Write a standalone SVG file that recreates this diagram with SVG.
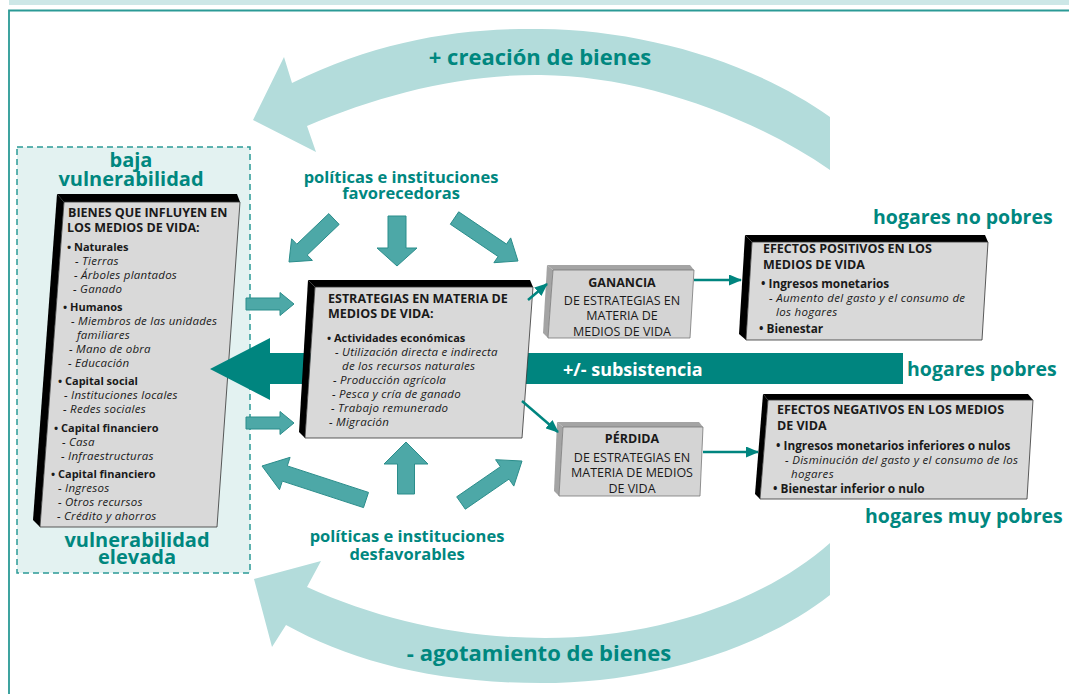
<svg xmlns="http://www.w3.org/2000/svg" width="1069" height="694" viewBox="0 0 1069 694">
<defs>
<style>
.t{font-family:"Open Sans","Liberation Sans",sans-serif;fill:#1a1a1a}
.hdr{font-size:12.5px;font-weight:bold}
.bul{font-size:11px;font-weight:bold}
.it{font-size:11.5px;font-style:italic;letter-spacing:0.25px}
.bul2{font-size:11.8px;font-weight:bold}
.it2{font-size:11.5px;font-style:italic;letter-spacing:0.3px}
.reg{font-size:12.5px}
.g{font-family:"Open Sans","Liberation Sans",sans-serif;font-weight:bold;fill:#00877f}
.face{fill:#d9d9d9;stroke:#333;stroke-width:0.8}
.blk{fill:#000}
.gface{fill:#d4d4d4;stroke:#777;stroke-width:0.8}
.gside{fill:#a4a4a4}
.blockarrow{fill:#4da8a7;stroke:#2b8d8b;stroke-width:1}
.thin{stroke:#00857f;stroke-width:2.5;fill:none}
.arc{fill:#b3dcdb}
</style>
<marker id="ah" markerUnits="userSpaceOnUse" markerWidth="13" markerHeight="11" refX="12" refY="5.5" orient="auto"><path d="M0,0 L13,5.5 L0,11 Z" fill="#00857f"/></marker>
</defs>
<rect width="1069" height="694" fill="#fff"/>
<rect x="9" y="0" width="1060" height="5" fill="#cde7e7"/>
<path d="M9,694 V10.5 H1069" fill="none" stroke="#2b9a96" stroke-width="1.8"/>

<g id="arc-top">
<path class="arc" d="M292,83 C380,40 460,28 541,29 C640,30 750,60 830,117 L830,170 C750,115 640,76 541,75 C460,74 380,95 307,126 L316,152 L253,120 L284,57 Z"/>
<text class="g" x="540" y="65" font-size="22" text-anchor="middle">+ creación de bienes</text>
</g>
<g id="arc-bottom">
<path class="arc" d="M307,587 C380,620 460,638 545,638 C650,638 760,605 830,543 L830,595 C760,650 650,683 541,683 C430,683 350,660 286,625 L272,647 L254,579 L321,561 Z"/>
<text class="g" x="539" y="661" font-size="22" text-anchor="middle">- agotamiento de bienes</text>
</g>

<g id="vulnerability-zone">
<rect x="17" y="147" width="233" height="426" fill="#e3f2f1" stroke="#2b9a96" stroke-width="1.5" stroke-dasharray="6,4"/>
<text class="g" font-size="20" text-anchor="middle"><tspan x="131" y="167">baja</tspan><tspan x="131" y="186">vulnerabilidad</tspan></text>
<text class="g" font-size="20" text-anchor="middle"><tspan x="137" y="547">vulnerabilidad</tspan><tspan x="137" y="564">elevada</tspan></text>
</g>

<g id="bienes">
<polygon class="blk" points="57,194 237,194 240,202 64,202"/>
<polygon class="blk" points="57,194 64,202 40,527 33,520"/>
<polygon class="face" points="64,202 240,202 217,527 40,527"/>
<text class="t hdr" x="68" y="217">BIENES QUE INFLUYEN EN</text>
<text class="t hdr" x="67" y="232">LOS MEDIOS DE VIDA:</text>
<text class="t bul" x="67" y="251">• Naturales</text>
<text class="t it" x="75" y="265">- Tierras</text>
<text class="t it" x="74" y="279">- Árboles plantados</text>
<text class="t it" x="73" y="293">- Ganado</text>
<text class="t bul" x="63" y="311">• Humanos</text>
<text class="t it" x="71" y="325">- Miembros de las unidades</text>
<text class="t it" x="77" y="339">familiares</text>
<text class="t it" x="69" y="353">- Mano de obra</text>
<text class="t it" x="68" y="367">- Educación</text>
<text class="t bul" x="58" y="385">• Capital social</text>
<text class="t it" x="64" y="399">- Instituciones locales</text>
<text class="t it" x="63" y="413">- Redes sociales</text>
<text class="t bul" x="54" y="432">• Capital financiero</text>
<text class="t it" x="62" y="446">- Casa</text>
<text class="t it" x="61" y="460">- Infraestructuras</text>
<text class="t bul" x="51" y="478">• Capital financiero</text>
<text class="t it" x="58" y="492">- Ingresos</text>
<text class="t it" x="58" y="506">- Otros recursos</text>
<text class="t it" x="57" y="520">- Crédito y ahorros</text>
</g>

<g id="subsistencia">
<polygon fill="#00857f" points="210,369 270,338 270,353 903,353 903,384 270,384 270,400"/>
<text x="563" y="376" font-family="Open Sans, Liberation Sans, sans-serif" font-weight="bold" font-size="18" fill="#fff">+/- subsistencia</text>
</g>

<g id="estrategias">
<polygon class="blk" points="308,280 530,280 533,287 315,287"/>
<polygon class="blk" points="308,280 315,287 305,438 299,432"/>
<polygon class="face" points="315,287 533,287 522,438 305,438"/>
<text class="t hdr" x="328" y="303">ESTRATEGIAS EN MATERIA DE</text>
<text class="t hdr" x="328" y="318">MEDIOS DE VIDA:</text>
<text class="t bul" x="327" y="342">• Actividades económicas</text>
<text class="t it" x="335" y="356">- Utilización directa e indirecta</text>
<text class="t it" x="342" y="370">de los recursos naturales</text>
<text class="t it" x="333" y="384">- Producción agrícola</text>
<text class="t it" x="332" y="398">- Pesca y cría de ganado</text>
<text class="t it" x="331" y="412">- Trabajo remunerado</text>
<text class="t it" x="329" y="426">- Migración</text>
</g>

<g id="ganancia">
<polygon class="gside" points="547,265 690,265 694,270 553,270"/>
<polygon class="gside" points="547,265 553,270 548,338 543,333"/>
<polygon class="gface" points="553,270 694,270 690,338 548,338"/>
<text class="t hdr" x="622" y="287" text-anchor="middle">GANANCIA</text>
<text class="t reg" x="622" y="305" text-anchor="middle">DE ESTRATEGIAS EN</text>
<text class="t reg" x="622" y="320" text-anchor="middle">MATERIA DE</text>
<text class="t reg" x="622" y="336" text-anchor="middle">MEDIOS DE VIDA</text>
</g>

<g id="perdida">
<polygon class="gside" points="557,422 699,422 703,427 563,427"/>
<polygon class="gside" points="557,422 563,427 559,496 554,491"/>
<polygon class="gface" points="563,427 703,427 700,496 559,496"/>
<text class="t hdr" x="632" y="443" text-anchor="middle">PÉRDIDA</text>
<text class="t reg" x="632" y="462" text-anchor="middle">DE ESTRATEGIAS EN</text>
<text class="t reg" x="632" y="477" text-anchor="middle">MATERIA DE MEDIOS</text>
<text class="t reg" x="632" y="493" text-anchor="middle">DE VIDA</text>
</g>

<g id="efectos-positivos">
<polygon class="blk" points="745,235 985,235 988,242 752,242"/>
<polygon class="blk" points="745,235 752,242 746,340 739,334"/>
<polygon class="face" points="752,242 988,242 982,340 746,340"/>
<text class="t hdr" x="763" y="253">EFECTOS POSITIVOS EN LOS</text>
<text class="t hdr" x="763" y="269">MEDIOS DE VIDA</text>
<text class="t bul2" x="761" y="288">• Ingresos monetarios</text>
<text class="t it2" x="769" y="302">- Aumento del gasto y el consumo de</text>
<text class="t it2" x="776" y="316">los hogares</text>
<text class="t bul2" x="759" y="333">• Bienestar</text>
</g>

<g id="efectos-negativos">
<polygon class="blk" points="763,394 1028,394 1033,400 768,400"/>
<polygon class="blk" points="763,394 768,400 760,499 755,494"/>
<polygon class="face" points="768,400 1033,400 1027,499 760,499"/>
<text class="t hdr" x="777" y="414">EFECTOS NEGATIVOS EN LOS MEDIOS</text>
<text class="t hdr" x="777" y="430">DE VIDA</text>
<text class="t bul2" x="776" y="450">• Ingresos monetarios inferiores o nulos</text>
<text class="t it2" x="785" y="464">- Disminución del gasto y el consumo de los</text>
<text class="t it2" x="791" y="478">hogares</text>
<text class="t bul2" x="773" y="493">• Bienestar inferior o nulo</text>
</g>

<g id="politicas-favorecedoras">
<text class="g" font-size="16.5" text-anchor="middle"><tspan x="401" y="183">políticas e instituciones</tspan><tspan x="401" y="199">favorecedoras</tspan></text>
</g>
<g id="politicas-desfavorables">
<text class="g" font-size="16.5" text-anchor="middle"><tspan x="407" y="542">políticas e instituciones</tspan><tspan x="407" y="560">desfavorables</tspan></text>
</g>

<g id="labels-hogares">
<text class="g" x="873" y="224" font-size="19.5">hogares no pobres</text>
<text class="g" x="907" y="376" font-size="19.5">hogares pobres</text>
<text class="g" x="865" y="523" font-size="19.5">hogares muy pobres</text>
</g>

<g id="connectors">
<polygon class="blockarrow" points="328.8,213.6 296.8,244.2 291.6,238.8 289,262 312.4,260.4 307.2,255 339.2,224.4"/>
<polygon class="blockarrow" points="388,216 388,248 377,248 397,266 417,248 406,248 406,216"/>
<polygon class="blockarrow" points="450.3,224.2 498.1,256.5 493.9,262.7 518,261 510.7,237.9 506.5,244.1 458.7,211.8"/>
<polygon class="blockarrow" points="368.5,492.4 287.3,465.9 290.1,457.3 262,466 279.5,489.7 282.3,481.1 363.5,507.6"/>
<polygon class="blockarrow" points="414.5,494 414.5,464 428,464 406,442 384,464 397.5,464 397.5,494"/>
<polygon class="blockarrow" points="465.3,509.2 509,479.1 513.8,486.1 522,461 495.6,459.7 500.4,466.7 456.7,496.8"/>
<polygon class="blockarrow" points="246,298 280,298 280,292.5 294,304 280,315.5 280,310 246,310"/>
<polygon class="blockarrow" points="246,417 280,417 280,411.5 294,423 280,434.5 280,429 246,429"/>
<path class="thin" d="M528,300 L547,284" marker-end="url(#ah)"/>
<path class="thin" d="M522,401 L558,432" marker-end="url(#ah)"/>
<path class="thin" d="M694,280 L741,280" marker-end="url(#ah)"/>
<path class="thin" d="M703,452 L758,452" marker-end="url(#ah)"/>
</g>
</svg>
